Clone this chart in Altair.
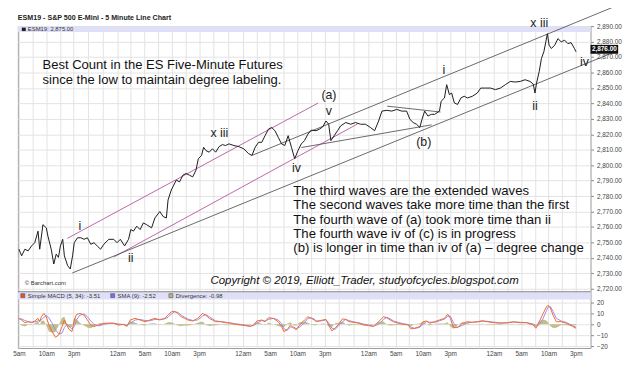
import altair as alt
import pandas as pd

# ---------------- data ----------------
tick_t = [0, 5, 10, 18, 23, 28, 33, 41, 46, 51, 56, 64, 69, 74, 79, 87, 92, 97, 102]
tick_labels = ["5am", "10am", "3pm", "12am"] * 4 + ["5am", "10am", "3pm"]
grid_t = [2.5, 7.5, 12.67, 15.33, 20.5, 25.5, 30.5, 35.67, 38.33, 43.5, 48.5,
          53.5, 58.67, 61.33, 66.5, 71.5, 76.5, 81.67, 84.33, 89.5, 94.5, 99.5]

price_t = [0.0, 0.49, 1.08, 1.68, 2.30, 2.89, 3.49, 3.80, 4.39, 5.01,
           5.30, 5.91, 6.38, 6.82, 7.23, 7.59, 8.01, 8.32, 8.92, 9.40,
           9.82, 10.13, 10.72, 11.34, 11.93, 12.53, 13.15, 13.74, 14.34, 14.95,
           15.55, 16.46, 17.36, 17.96, 18.57, 19.35, 20.07, 20.49, 20.98, 21.57,
           22.19, 22.78, 23.38, 24.29, 24.90, 25.80, 26.40, 27.00, 27.31, 27.90,
           28.21, 28.81, 29.42, 30.02, 30.61, 31.23, 31.83, 32.42, 32.86, 33.45,
           33.82, 34.23, 34.85, 35.44, 36.04, 36.66, 37.25, 37.85, 38.46, 39.37,
           40.27, 41.18, 42.08, 42.68, 43.27, 43.89, 44.48, 45.08, 45.70, 46.29,
           46.89, 47.50, 48.10, 48.70, 49.31, 49.91, 50.51, 51.12, 51.72, 52.31,
           52.93, 53.53, 54.43, 55.03, 55.64, 56.24, 56.73, 57.14, 57.74, 58.35,
           58.95, 59.86, 60.76, 61.66, 62.57, 63.47, 64.38, 65.15, 65.88, 66.49,
           67.40, 68.30, 69.20, 70.11, 71.01, 71.61, 72.21, 72.82, 73.42, 73.83,
           74.32, 74.92, 75.53, 76.13, 77.03, 77.34, 77.94, 78.35, 78.84, 79.26,
           79.75, 80.34, 80.96, 81.56, 82.15, 83.06, 83.96, 84.58, 85.48, 86.38,
           87.29, 88.19, 89.10, 90.00, 90.90, 91.81, 92.71, 93.62, 94.21, 94.52,
           94.81, 95.30, 95.71, 96.15, 96.51, 96.80, 97.11, 97.52, 98.14, 98.73,
           99.33, 99.95, 100.54, 101.14, 101.75, 102.04]
price_p = [2745.6, 2741.3, 2745.6, 2744.5, 2747.7, 2749.8, 2757.3, 2745.6, 2761.5, 2759.4,
           2754.1, 2745.6, 2736.0, 2742.4, 2740.3, 2747.7, 2752.0, 2741.3, 2734.9, 2732.8,
           2741.3, 2749.8, 2753.0, 2753.0, 2752.0, 2753.0, 2748.8, 2749.8, 2747.7, 2745.6,
           2748.8, 2752.0, 2752.0, 2749.8, 2752.0, 2747.7, 2752.0, 2758.3, 2757.3, 2760.5,
           2758.3, 2762.6, 2761.5, 2759.4, 2765.8, 2770.0, 2766.8, 2765.8, 2777.5, 2783.9,
           2786.0, 2790.3, 2789.2, 2793.5, 2794.6, 2793.5, 2792.4, 2796.7, 2804.2, 2806.3,
           2811.6, 2809.5, 2808.4, 2810.6, 2808.4, 2812.0, 2813.3, 2812.7, 2813.8, 2812.7,
           2812.0, 2810.6, 2807.4, 2806.3, 2811.6, 2814.8, 2814.8, 2819.1, 2823.3, 2824.4,
           2822.3, 2818.0, 2813.8, 2812.7, 2819.1, 2811.6, 2804.2, 2809.5, 2813.8, 2815.9,
           2820.1, 2822.7, 2822.3, 2823.3, 2824.8, 2828.6, 2826.5, 2815.9, 2819.1, 2822.3,
           2825.5, 2827.6, 2826.5, 2827.6, 2826.5, 2826.5, 2824.4, 2822.3, 2828.6, 2835.0,
           2835.5, 2835.0, 2836.1, 2835.0, 2835.0, 2829.7, 2827.6, 2826.5, 2824.4, 2829.7,
           2835.0, 2831.8, 2832.9, 2832.9, 2835.0, 2841.4, 2843.5, 2852.1, 2845.7, 2846.7,
           2840.3, 2839.3, 2843.5, 2844.6, 2843.5, 2844.6, 2846.7, 2849.9, 2849.9, 2849.9,
           2848.9, 2849.9, 2852.1, 2854.2, 2853.8, 2854.2, 2855.3, 2854.2, 2852.5, 2846.7,
           2853.1, 2860.6, 2869.1, 2873.4, 2879.8, 2885.1, 2877.7, 2875.5, 2877.7, 2881.9,
           2879.8, 2880.9, 2878.7, 2879.3, 2875.5, 2873.4]

macd_t = [0.0, 0.49, 1.08, 1.68, 2.30, 2.89, 3.49, 3.80, 4.10, 4.57,
          5.01, 5.48, 6.09, 6.69, 7.29, 7.90, 8.32, 8.81, 9.22, 9.71,
          10.13, 10.54, 11.16, 11.93, 12.53, 13.15, 13.74, 14.64, 15.55, 16.46,
          17.36, 18.26, 19.17, 19.76, 20.38, 21.28, 22.19, 23.09, 23.99, 24.90,
          25.80, 26.71, 27.31, 27.90, 28.52, 29.11, 29.71, 30.33, 30.92, 31.83,
          32.73, 33.63, 34.23, 34.85, 35.44, 36.04, 36.94, 37.85, 38.75, 39.66,
          40.56, 41.46, 42.37, 42.98, 43.58, 44.48, 45.08, 45.70, 46.60, 47.50,
          48.10, 48.52, 49.13, 49.73, 50.33, 50.81, 51.41, 52.31, 52.93, 53.53,
          54.12, 54.43, 55.64, 56.24, 56.73, 57.32, 57.92, 58.54, 59.26, 59.86,
          60.45, 61.36, 62.26, 63.16, 64.07, 64.97, 65.88, 66.78, 67.40, 67.99,
          68.59, 69.49, 70.40, 71.30, 71.79, 72.51, 73.42, 74.02, 74.63, 75.23,
          76.13, 77.03, 77.94, 78.54, 79.02, 79.62, 80.34, 81.25, 82.15, 83.06,
          83.96, 84.86, 85.77, 86.98, 88.19, 89.38, 90.60, 91.81, 93.00, 94.21,
          94.70, 95.30, 96.02, 96.62, 96.93, 97.34, 97.83, 98.43, 99.33, 100.24,
          100.85, 101.45, 102.04]
macd_v = [5.5, 4, 1.5, 2.4, 1.5, 3, 5.5, 2.4, 7, 10,
          7, -0.6, -6.7, -12, -9.7, -2, 4, -1.2, -5, -6.7,
          4, 9, 10, 8.5, 4, -0.6, -2, -0.6, 1, 1,
          1, -0.6, 0, -2, 4, 5.5, 4, 2.4, 4, 5.5,
          4, 5.5, 8.5, 11.5, 12, 10, 7, 5.5, 4, 3,
          5.5, 10, 8.5, 5.5, 4, 2.4, 2.4, 1.5, 1, 0,
          -0.6, -1.2, -2, -0.6, 3, 4, 2.4, 6, 5.5, 2.4,
          -2, -6.7, -5, -0.6, -3.6, -5, -0.6, 4, 7, 5.5,
          4, 2.4, 4, 4.5, -0.6, -6, -3.6, 0, 5, 4.5,
          2.4, 1.8, 1, -0.6, -1.2, -2, 2.4, 7, 6, 4,
          2.4, 1, 0, -0.6, -4.2, -3.6, -2, 2.4, 3, 1,
          2.4, 4, 5.5, 9.4, 5.5, -3, -3, 1, 2.4, 1.8,
          2.4, 3.3, 2.4, 1.5, 1, 1.5, 2.4, 1.5, 1.5, -0.6,
          -3.6, 2.4, 10, 16, 17.6, 15, 8.5, 2.4, 2.4, 1,
          -0.6, -2, -3.6]
sma_v = [5, 5, 3.5, 2.5, 2, 2.2, 3, 3.5, 4, 6.5,
         8, 6, 1, -5, -9, -8, -3, 0, -2, -4.5,
         -2, 4, 8.5, 9.5, 7, 3, 0, -1.5, 0, 1,
         1, 0.3, -0.2, -1, 1, 4, 4.5, 3.5, 3.2, 4.5,
         4.5, 5, 6.5, 9.5, 11.5, 11, 8.5, 6.5, 5, 3.5,
         4, 7.5, 9, 7, 5, 3.2, 2.5, 2, 1.3, 0.5,
         0, -0.8, -1.5, -1.2, 1, 3.5, 3, 4.5, 5.5, 4,
         0.5, -4, -5.5, -2.5, -2.5, -4, -2.5, 1.5, 5.5, 6,
         4.8, 3, 3.3, 4.2, 1.5, -3.5, -4.5, -1.5, 2.5, 4.5,
         3.5, 2.2, 1.4, 0.2, -0.8, -1.6, 0, 4.5, 6.5, 5,
         3.2, 1.7, 0.5, -0.2, -2.5, -3.8, -2.8, 0, 2.6, 2,
         1.8, 3.2, 4.8, 7.5, 7.5, 1, -2.5, -1, 1.5, 2,
         2.2, 2.8, 2.8, 2, 1.3, 1.3, 2, 1.9, 1.5, 0.3,
         -2, -0.5, 5.5, 12.5, 16, 16.5, 12, 5.5, 3, 1.8,
         0.2, -1.2, -2.8]

# trend / channel lines (start time, start price, end time, end price)
black_t1 = [9.76, 42.68, 51.72, 67.45]
black_p1 = [2730.2, 2806.3, 2811.4, 2838.2]
black_t2 = [109.6, 109.6, 75.59, 77.22]
black_p2 = [2874.0, 2903.4, 2826.1, 2834.4]
purple_t1 = [8.86, 17.36]
purple_p1 = [2752.6, 2740.5]
purple_t2 = [54.79, 62.03]
purple_p2 = [2840.2, 2826.7]

wave_labels = ["i", "ii", "x iii", "iv", "(a)", "v", "(b)", "i", "ii", "x iii", "iv"]
wave_t = [11.16, 20.49, 36.7, 50.81, 56.78, 56.78, 74.14, 77.85, 94.52, 95.3, 103.6]
wave_p = [2760.3, 2739.8, 2821.0, 2798.0, 2845.3, 2835.0, 2815.2, 2861.6, 2838.2, 2891.9, 2867.0]

notes = ["The third waves are the extended waves",
         "The second waves take more time than the first",
         "The fourth wave of (a) took more time than ii",
         "The fourth wave iv of (c) is in progress",
         "(b) is longer in time than iv of (a) \u2013 degree change"]

# ---------------- chart ----------------
W, H = 580, 326
X_DOM = [-0.2, 104.7]
P_DOM = [2681.65, 2890.0]
M_DOM = [-21.8, 274.5]
FONT = "Liberation Sans"
GRID = "#e3e3e3"

label_expr = "".join(f"datum.value == {t} ? '{l}' : " for t, l in zip(tick_t, tick_labels)) + "''"
x_axis = alt.Axis(values=sorted(tick_t + grid_t), labelExpr=label_expr, grid=True,
                  gridColor=GRID, ticks=False, domain=False, labelFont=FONT,
                  labelFontSize=6.5, labelColor="#444", labelPadding=3, labelAngle=0,
                  title=None, labelOverlap=False, labelFlush=False)
xs = alt.Scale(domain=X_DOM, nice=False, zero=False)
ps = alt.Scale(domain=P_DOM, nice=False, zero=False)
ms = alt.Scale(domain=M_DOM, nice=False, zero=False)

p_axis = alt.Axis(orient="right", values=list(range(2720, 2891, 10)), format=",.2f",
                  grid=True, gridColor=GRID, tickSize=3, tickColor="#888", domain=False,
                  labelFont=FONT, labelFontSize=6.5, labelColor="#444", labelPadding=3,
                  title=None, labelFlush=False, labelOverlap=False)
m_axis = alt.Axis(orient="right", values=[-20, -10, 0, 10, 20], format="d",
                  grid=True, gridColor=GRID, tickSize=3, tickColor="#888", domain=False,
                  labelFont=FONT, labelFontSize=6.5, labelColor="#444", labelPadding=3,
                  title=None, labelFlush=False, labelOverlap=False)


def X(f):
    return alt.X(f, type="quantitative", scale=xs, axis=x_axis)


def PY(f, axis=None):
    return alt.Y(f, type="quantitative", scale=ps, axis=axis)


def MY(f, axis=None):
    return alt.Y(f, type="quantitative", scale=ms, axis=axis)


one = pd.DataFrame({"k": [0]})


def rect(x1, x2, y1, y2, color, stroke=None):
    kw = {"color": color}
    if stroke:
        kw.update(stroke=stroke, strokeWidth=0.6)
    return alt.Chart(one).mark_rect(**kw).encode(
        x=alt.value(x1), x2=alt.value(x2), y=alt.value(y1), y2=alt.value(y2))


def txt(s, x, y, size=12, **kw):
    props = dict(align="left", baseline="middle", font=FONT, fontSize=size, color="#111")
    props.update(kw)
    return alt.Chart(one).mark_text(text=s, **props).encode(x=alt.value(x), y=alt.value(y))


price_df = pd.DataFrame({"t": price_t, "p": price_p})
macd_df = pd.DataFrame({"t": macd_t, "macd": macd_v, "sma": sma_v})
macd_df["div"] = macd_df["macd"] - macd_df["sma"]
black_df = pd.DataFrame({"t1": black_t1, "p1": black_p1, "t2": black_t2, "p2": black_p2})
purple_df = pd.DataFrame({"t1": purple_t1, "p1": purple_p1, "t2": purple_t2, "p2": purple_p2})
wave_df = pd.DataFrame({"t": wave_t, "p": wave_p, "lab": wave_labels})

layers = []
# header bands
layers.append(rect(0, W, 0, 6, "#dfe0f7"))
layers.append(rect(0, W, 269, 277, "#dfe0f7"))
layers.append(alt.Chart(one).mark_rule(color="#888", strokeWidth=1).encode(
    x=alt.value(0), x2=alt.value(W), y=alt.value(269)))

# divergence area and macd lines
layers.append(alt.Chart(macd_df).mark_area(color="#b8b87e", opacity=0.9).encode(
    x=X("t"), y=MY("div", m_axis), y2=alt.datum(0)))
layers.append(alt.Chart(macd_df).mark_line(color="#9b8cf5", strokeWidth=1).encode(
    x=X("t"), y=MY("sma")))
layers.append(alt.Chart(macd_df).mark_line(color="#f26a2a", strokeWidth=1).encode(
    x=X("t"), y=MY("macd")))

# channel lines
layers.append(alt.Chart(purple_df).mark_rule(color="#b8559f", strokeWidth=0.9).encode(
    x=X("t1"), x2="t2", y=PY("p1"), y2="p2"))
layers.append(alt.Chart(black_df).mark_rule(color="#444", strokeWidth=0.8).encode(
    x=X("t1"), x2="t2", y=PY("p1"), y2="p2"))

# price line
layers.append(alt.Chart(price_df).mark_line(color="#1a1a1a", strokeWidth=1).encode(
    x=X("t"), y=PY("p", p_axis)))

# wave labels
layers.append(alt.Chart(wave_df).mark_text(font=FONT, fontSize=12.5, color="#222",
                                           baseline="middle", align="center").encode(
    x=X("t"), y=PY("p"), text="lab:N"))

# texts
layers.append(txt("ESM19 - S&P 500 E-Mini - 5 Minute Line Chart", 0, -8, 7.2,
                  fontWeight="bold", color="#222"))
layers.append(rect(4, 8, 1.5, 5, "#222"))
layers.append(txt("ESM19: 2,875.00", 10, 3.3, 6, color="#333"))
layers.append(txt("Best Count in the ES Five-Minute Futures", 25, 39, 13.2))
layers.append(txt("since the low to maintain degree labeling.", 25, 55, 13.2))
for i, s in enumerate(notes):
    layers.append(txt(s, 279, 167 + 14.5 * i, 13.3))
layers.append(txt("Copyright \u00a9 2019, Elliott_Trader, studyofcycles.blogspot.com",
                  195, 258, 11.6, fontStyle="italic"))
layers.append(txt("\u00a9 Barchart.com", 7, 260, 6, color="#333"))

# MACD legend
layers.append(rect(3, 7, 271, 275, "#e8541c", stroke="#555"))
layers.append(txt("Simple MACD (5, 34): -3.51", 10, 273, 6, color="#333"))
layers.append(rect(94, 98, 271, 275, "#7a6cf0", stroke="#555"))
layers.append(txt("SMA (9): -2.52", 101, 273, 6, color="#333"))
layers.append(rect(153, 157, 271, 275, "#b8b87e", stroke="#555"))
layers.append(txt("Divergence: -0.98", 160, 273, 6, color="#333"))

# last price box
layers.append(rect(580, 608, 19, 28, "#111"))
layers.append(txt("2,876.00", 594, 23.5, 6.5, color="white", align="center", fontWeight="bold"))

chart = alt.layer(*layers).resolve_scale(y="independent").resolve_axis(y="independent").properties(
    width=W, height=H,
    autosize=alt.AutoSizeParams(type="none"),
    padding={"left": 10, "top": 16, "right": 42, "bottom": 26},
    background="white",
).configure_view(stroke="#9a9a9a", strokeWidth=1)

chart.save("out.html", embed_options={"renderer": "svg", "actions": False})
